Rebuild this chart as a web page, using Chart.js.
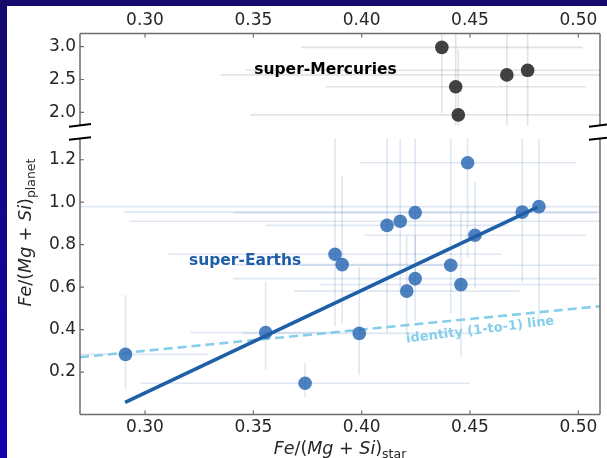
<!DOCTYPE html>
<html><head><meta charset="utf-8">
<script src="https://cdn.jsdelivr.net/npm/chart.js@4"></script>
<style>
html,body{margin:0;padding:0;width:607px;height:458px;overflow:hidden;}
body{background:linear-gradient(#150a6c,#1500ad);}
#panel{position:absolute;left:7px;top:6px;width:600px;height:452px;background:#fff;}
canvas{position:absolute;left:0;top:0;}
</style></head><body>
<div id="panel"></div>
<canvas id="bottomChart" width="607" height="458"></canvas>
<canvas id="topChart" width="607" height="458"></canvas>
<script>
// ---- data ----
const xTicks = [0.30, 0.35, 0.40, 0.45, 0.50];
const bottomYTicks = [0.2, 0.4, 0.6, 0.8, 1.0, 1.2];
const topYTicks = [2.0, 2.5, 3.0];

const earthX = [0.291, 0.3557, 0.3739, 0.3877, 0.391, 0.3989, 0.4117, 0.4178, 0.4247, 0.4208, 0.4247, 0.4411, 0.4458, 0.4489, 0.4523, 0.4741, 0.4818];
const earthY = [0.283, 0.386, 0.147, 0.755, 0.706, 0.382, 0.891, 0.910, 0.951, 0.581, 0.640, 0.703, 0.612, 1.186, 0.844, 0.953, 0.979];
const earthXErr = [0.038, 0.035, 0.076, 0.077, 0.05, 0.054, 0.056, 0.125, 0.084, 0.052, 0.084, 0.07, 0.065, 0.05, 0.051, 0.184, 0.22];
const earthYErrLow = [0.16, 0.174, 0.066, 0.34, 0.277, 0.196, 0.51, 0.325, 0.35, 0.2, 0.2, 0.227, 0.34, 0.444, 0.25, 0.33, 0.566];
const earthYErrHigh = [0.28, 0.238, 0.094, 0.6, 0.42, 0.313, 0.45, 0.45, 0.4, 0.26, 0.2, 0.6, 0.334, 0.444, 0.25, 0.4, 0.566];

const mercX = [0.437, 0.4434, 0.4446, 0.467, 0.4766];
const mercY = [2.99, 2.39, 1.96, 2.57, 2.64];
const mercXErr = [0.065, 0.06, 0.096, 0.132, 0.13];
const mercYErr = [1.0, 1.0, 1.0, 1.0, 1.0];

const fitX = [0.2908, 0.4812];
const fitY = [0.057, 0.977];
const identityX = [0.27, 0.51];
const identityY = [0.27, 0.51];

const FONT = '"DejaVu Sans"';
Chart.defaults.font.family = FONT;
Chart.defaults.color = '#262626';

function pts(xs, ys){ return xs.map((x,i)=>({x, y: ys[i]})); }

function errorBarPlugin(xs, ys, xerr, ylo, yhi, color){
  return {
    id: 'errbars',
    beforeDatasetsDraw(chart){
      const {ctx, chartArea:a, scales:{x, y}} = chart;
      ctx.save();
      ctx.beginPath(); ctx.rect(a.left, a.top, a.right-a.left, a.bottom-a.top); ctx.clip();
      ctx.strokeStyle = color; ctx.lineWidth = 1.6;
      xs.forEach((xv, i) => {
        const px = x.getPixelForValue(xv), py = y.getPixelForValue(ys[i]);
        ctx.beginPath();
        ctx.moveTo(x.getPixelForValue(xv - xerr[i]), py);
        ctx.lineTo(x.getPixelForValue(xv + xerr[i]), py);
        ctx.stroke();
        ctx.beginPath();
        ctx.moveTo(px, y.getPixelForValue(ys[i] - ylo[i]));
        ctx.lineTo(px, y.getPixelForValue(ys[i] + yhi[i]));
        ctx.stroke();
      });
      ctx.restore();
    }
  };
}

function framePlugin(sides, xTickSide, yTickVals, breakSide, extra){
  return {
    id: 'frame',
    afterDraw(chart){
      const {ctx, chartArea:a, scales:{x, y}} = chart;
      ctx.save();
      ctx.strokeStyle = '#6e6e6e'; ctx.lineWidth = 1.5; ctx.lineCap = 'butt';
      ctx.beginPath();
      if (sides.includes('left')) { ctx.moveTo(a.left, a.top); ctx.lineTo(a.left, a.bottom); }
      if (sides.includes('right')) { ctx.moveTo(a.right, a.top); ctx.lineTo(a.right, a.bottom); }
      if (sides.includes('top')) { ctx.moveTo(a.left, a.top); ctx.lineTo(a.right, a.top); }
      if (sides.includes('bottom')) { ctx.moveTo(a.left, a.bottom); ctx.lineTo(a.right, a.bottom); }
      ctx.stroke();
      // inward ticks
      ctx.lineWidth = 1.2;
      ctx.beginPath();
      xTicks.forEach(v => {
        const px = x.getPixelForValue(v);
        if (xTickSide === 'top') { ctx.moveTo(px, a.top); ctx.lineTo(px, a.top + 4); }
        else { ctx.moveTo(px, a.bottom); ctx.lineTo(px, a.bottom - 4); }
      });
      yTickVals.forEach(v => {
        const py = y.getPixelForValue(v);
        ctx.moveTo(a.left, py); ctx.lineTo(a.left + 4, py);
      });
      ctx.stroke();
      // break marks
      ctx.strokeStyle = '#000'; ctx.lineWidth = 2;
      const by = breakSide === 'bottom' ? a.bottom : a.top;
      ctx.beginPath();
      [a.left, a.right].forEach(bx => {
        ctx.moveTo(bx - 11, by + 1.3); ctx.lineTo(bx + 11, by - 1.3);
      });
      ctx.stroke();
      ctx.restore();
      if (extra) extra(chart);
    }
  };
}

function drawMath(ctx, cx, cy, rot, parts, sub, size, subSize){
  ctx.save();
  ctx.translate(cx, cy); if (rot) ctx.rotate(rot);
  ctx.textBaseline = 'alphabetic'; ctx.textAlign = 'left'; ctx.fillStyle = '#262626';
  const segs = parts.map(([t, it]) => ({t, font: (it ? 'italic ' : '') + size + 'px ' + FONT, dy: 0}));
  segs.push({t: sub, font: subSize + 'px ' + FONT, dy: size * 0.24});
  let total = 0;
  segs.forEach(s => { ctx.font = s.font; s.w = ctx.measureText(s.t).width; total += s.w; });
  let px = -total / 2;
  segs.forEach(s => { ctx.font = s.font; ctx.fillText(s.t, px, s.dy); px += s.w; });
  ctx.restore();
}

const mathParts = [['Fe', true], ['/', false], ['(', false], ['Mg', true], [' + ', false], ['Si', true], [')', false]];

function bottomExtras(chart){
  const {ctx, scales:{x, y}} = chart;
  ctx.save();
  ctx.textAlign = 'center'; ctx.textBaseline = 'middle';
  ctx.font = 'bold 15.5px ' + FONT; ctx.fillStyle = '#1f5fa8';
  ctx.fillText('super-Earths', x.getPixelForValue(0.3462), y.getPixelForValue(0.723));
  ctx.translate(x.getPixelForValue(0.4547), y.getPixelForValue(0.397));
  ctx.rotate(-7 * Math.PI / 180);
  ctx.font = 'bold 13px ' + FONT; ctx.fillStyle = '#87ceeb';
  ctx.fillText('identity (1-to-1) line', 0, 0);
  ctx.restore();
  drawMath(ctx, 340, 454, 0, mathParts, 'star', 17.5, 12.5);
  drawMath(ctx, 30.5, 232.5, -Math.PI / 2, mathParts, 'planet', 17.5, 12.5);
}

function topExtras(chart){
  const {ctx, scales:{x, y}} = chart;
  ctx.save();
  ctx.textAlign = 'center'; ctx.textBaseline = 'middle';
  ctx.font = 'bold 15.5px ' + FONT; ctx.fillStyle = '#000';
  ctx.fillText('super-Mercuries', x.getPixelForValue(0.3833), y.getPixelForValue(2.65));
  ctx.restore();
}

const common = {
  responsive: false, animation: false, events: [],
  plugins: { legend: {display: false}, tooltip: {enabled: false} }
};

function xScale(position, height, pad){
  return {
    type: 'linear', position, min: 0.27, max: 0.51,
    grid: {display: false, drawTicks: false}, border: {display: false},
    afterBuildTicks: s => { s.ticks = xTicks.map(v => ({value: v})); },
    afterFit: s => { s.height = height; },
    ticks: {callback: v => Number(v).toFixed(2), font: {size: 17}, padding: pad, maxRotation: 0, color: '#262626'}
  };
}
function yScale(min, max, vals){
  return {
    type: 'linear', position: 'left', min, max,
    grid: {display: false, drawTicks: false}, border: {display: false},
    afterBuildTicks: s => { s.ticks = vals.map(v => ({value: v})); },
    afterFit: s => { s.width = 80; },
    ticks: {callback: v => Number(v).toFixed(1), font: {size: 17}, padding: 4, color: '#262626'}
  };
}

new Chart(document.getElementById('bottomChart'), {
  type: 'scatter',
  data: { datasets: [
    {data: pts(fitX, fitY), showLine: true, borderColor: '#1f5fa8', borderWidth: 3.6, pointRadius: 0, order: 1},
    {data: pts(earthX, earthY), backgroundColor: 'rgba(46,107,180,0.85)', borderWidth: 0, pointRadius: 6.8, order: 2},
    {data: pts(identityX, identityY), showLine: true, borderColor: '#87ceeb', borderWidth: 2.6, borderDash: [9, 5], pointRadius: 0, order: 3}
  ]},
  options: Object.assign({}, common, {
    layout: {padding: {left: 0, top: 138.5, right: 7, bottom: 0}},
    scales: { x: xScale('bottom', 43.5, 2.5), y: yScale(0, 1.3, bottomYTicks) }
  }),
  plugins: [
    errorBarPlugin(earthX, earthY, earthXErr, earthYErrLow, earthYErrHigh, 'rgba(60,110,175,0.17)'),
    framePlugin(['left', 'right', 'bottom'], 'bottom', bottomYTicks, 'top', bottomExtras)
  ]
});

new Chart(document.getElementById('topChart'), {
  type: 'scatter',
  data: { datasets: [
    {data: pts(mercX, mercY), backgroundColor: 'rgba(40,40,40,0.88)', borderWidth: 0, pointRadius: 6.8}
  ]},
  options: Object.assign({}, common, {
    layout: {padding: {left: 0, top: 0, right: 7, bottom: 332.6}},
    scales: { x: xScale('top', 33.6, 3), y: yScale(1.8, 3.2, topYTicks) }
  }),
  plugins: [
    errorBarPlugin(mercX, mercY, mercXErr, mercYErr, mercYErr, 'rgba(0,0,0,0.11)'),
    framePlugin(['left', 'right', 'top'], 'top', topYTicks, 'bottom', topExtras)
  ]
});
</script>
</body></html>
